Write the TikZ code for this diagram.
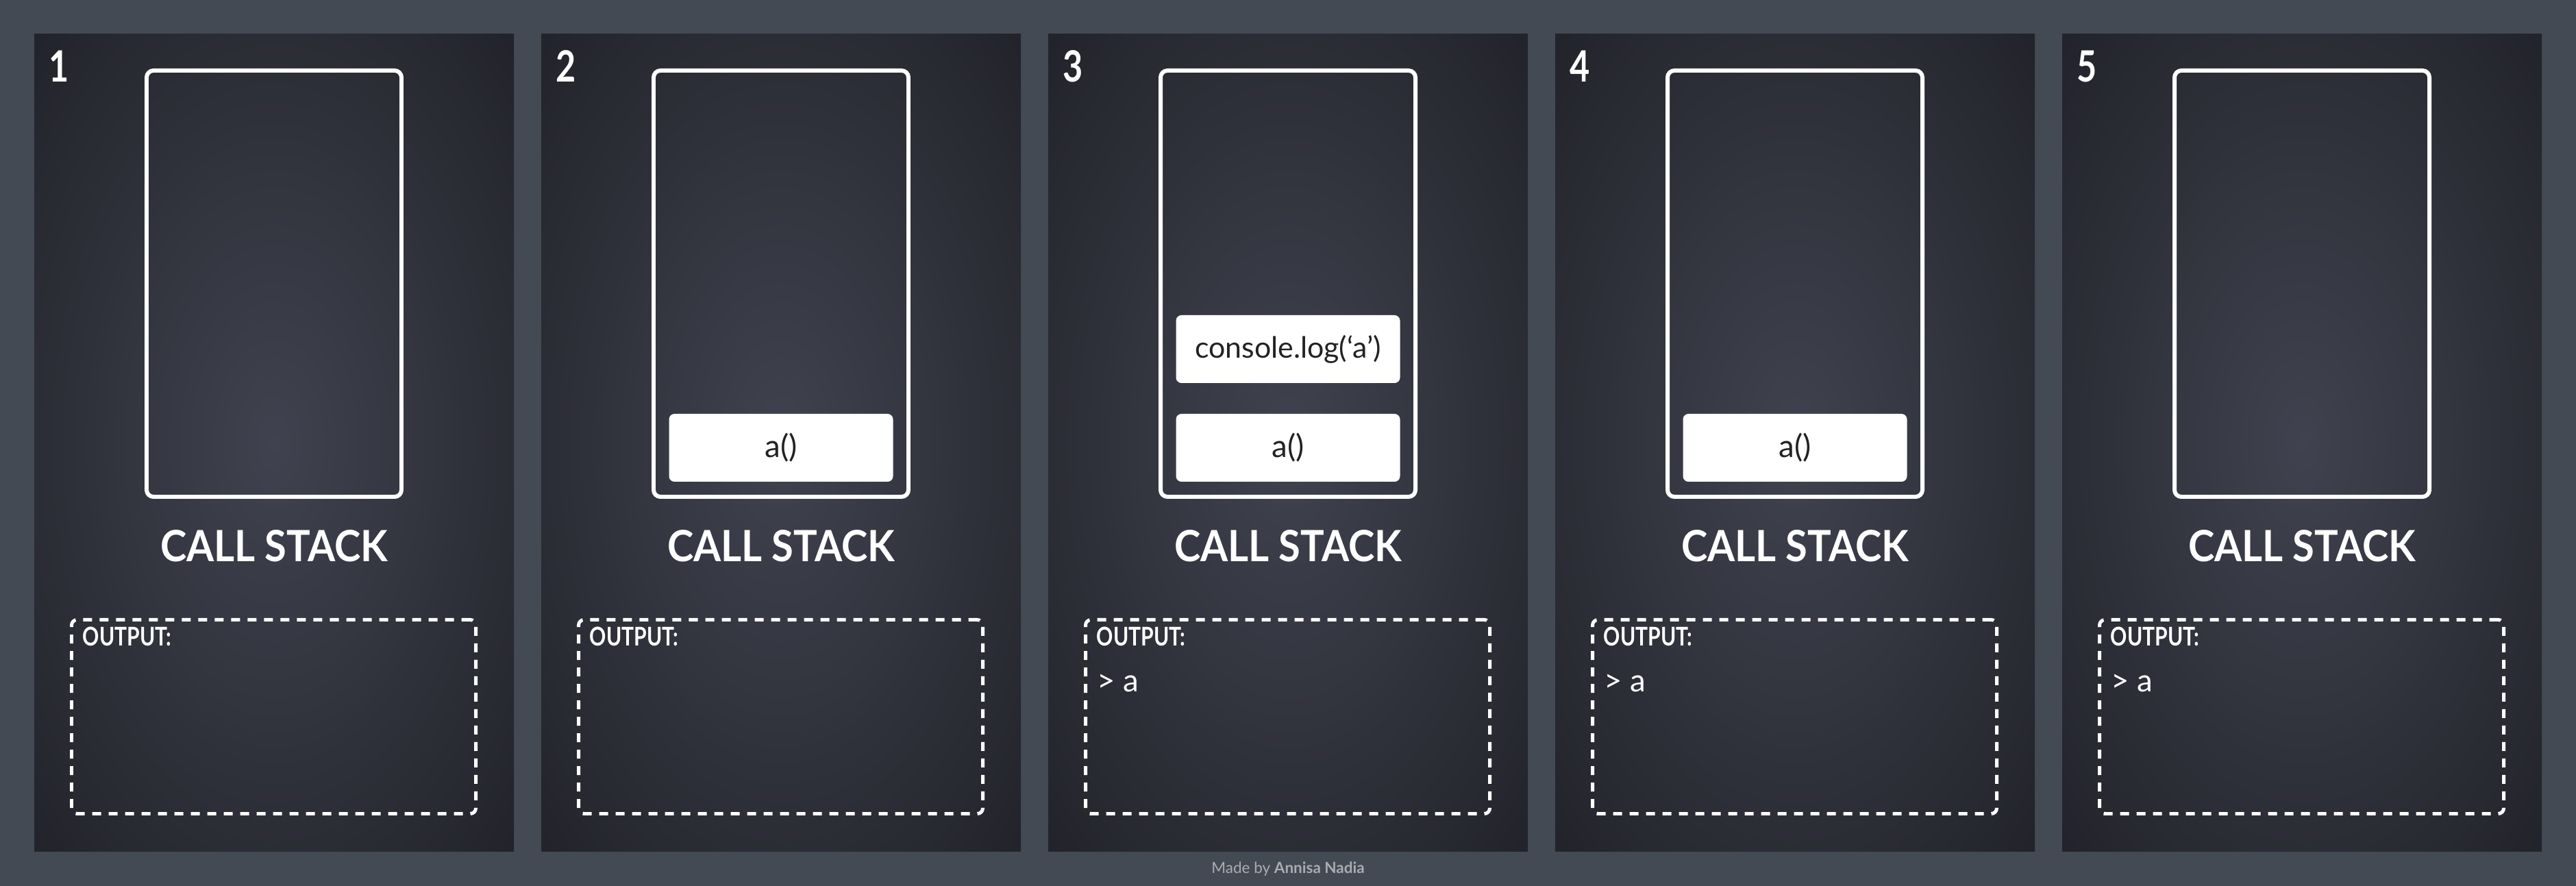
\documentclass[tikz,border=0pt]{standalone}
\usepackage{fontspec}
\setmainfont{Lato}
\newfontfamily\narrowfont[FakeStretch=0.8]{Lato}
\newfontfamily\titlefont[FakeStretch=0.92]{Lato}

\definecolor{bggray}{HTML}{434A54}
\definecolor{glowin}{HTML}{40424F}
\definecolor{glowout}{HTML}{1B1C21}
\definecolor{itemtext}{HTML}{222222}
\definecolor{footgray}{HTML}{A9ACB1}
\pgfdeclareradialshading{panelglow}{\pgfpoint{0bp}{0bp}}{color(0bp)=(glowin); color(44bp)=(glowout); color(100bp)=(glowout)}

\begin{document}
\begin{tikzpicture}[
  panelbox/.style={shade, shading=panelglow, minimum width=7cm, minimum height=11.93cm, inner sep=0pt},
  stackbox/.style={draw=white, line width=1.7pt, rounded corners=0.1cm, minimum width=3.72cm, minimum height=6.22cm, inner sep=0pt},
  stackitem/.style={fill=white, rounded corners=0.08cm, minimum width=3.27cm, minimum height=0.99cm, inner sep=0pt, text=itemtext, font=\fontsize{13}{15}\selectfont},
  stepnum/.style={text=white, anchor=base west, inner sep=0pt, font=\narrowfont\bfseries\fontsize{17.9}{20}\selectfont},
  stacklbl/.style={text=white, anchor=base, inner sep=0pt, font=\titlefont\bfseries\fontsize{17.9}{20}\selectfont},
  outbox/.style={draw=white, line width=1.42pt, dash pattern=on 0.13cm off 0.11cm, rounded corners=0.08cm, minimum width=5.9cm, minimum height=2.83cm, inner sep=0pt},
  outlbl/.style={text=white, anchor=base west, inner sep=0pt, font=\narrowfont\bfseries\fontsize{10.7}{12}\selectfont},
  outtext/.style={text=white, anchor=base west, inner sep=0pt, font=\fontsize{13}{15}\selectfont},
  credit/.style={text=footgray, anchor=base, inner sep=0pt, font=\fontsize{6.4}{8}\selectfont}
]
  \fill[bggray] (0,0) rectangle (37.6,12.93);

  % five snapshots of the stack
  \foreach \i in {1,...,5}{
    \pgfmathsetmacro{\xo}{0.5+7.4*(\i-1)}
    \node[panelbox] (panel\i) at (\xo+3.5,6.465) {};
    \node[stepnum] (num\i) at (\xo+0.21,11.73) {\i};
    \node[stackbox] (stack\i) at (\xo+3.5,8.79) {};
    \node[stacklbl] (lbl\i) at (\xo+3.5,4.73) {CALL STACK};
    \node[outbox] (out\i) at (\xo+3.495,2.47) {};
    \node[outlbl] (outlbl\i) at (\xo+0.70,3.50) {OUTPUT:};
  }

  % frames on the stack
  \node[stackitem] (a2) at (11.4,6.395) {a()};
  \node[stackitem] (a3) at (18.8,6.395) {a()};
  \node[stackitem, font=\fontsize{12.2}{14}\selectfont] (log3) at (18.8,7.835) {console.log(`a')};
  \node[stackitem] (a4) at (26.2,6.395) {a()};

  % printed output
  \node[outtext] (res3) at (16.01,2.83) {> a};
  \node[outtext] (res4) at (23.41,2.83) {> a};
  \node[outtext] (res5) at (30.81,2.83) {> a};

  \node[credit] (credit) at (18.8,0.18) {Made by \textbf{Annisa Nadia}};
\end{tikzpicture}
\end{document}
